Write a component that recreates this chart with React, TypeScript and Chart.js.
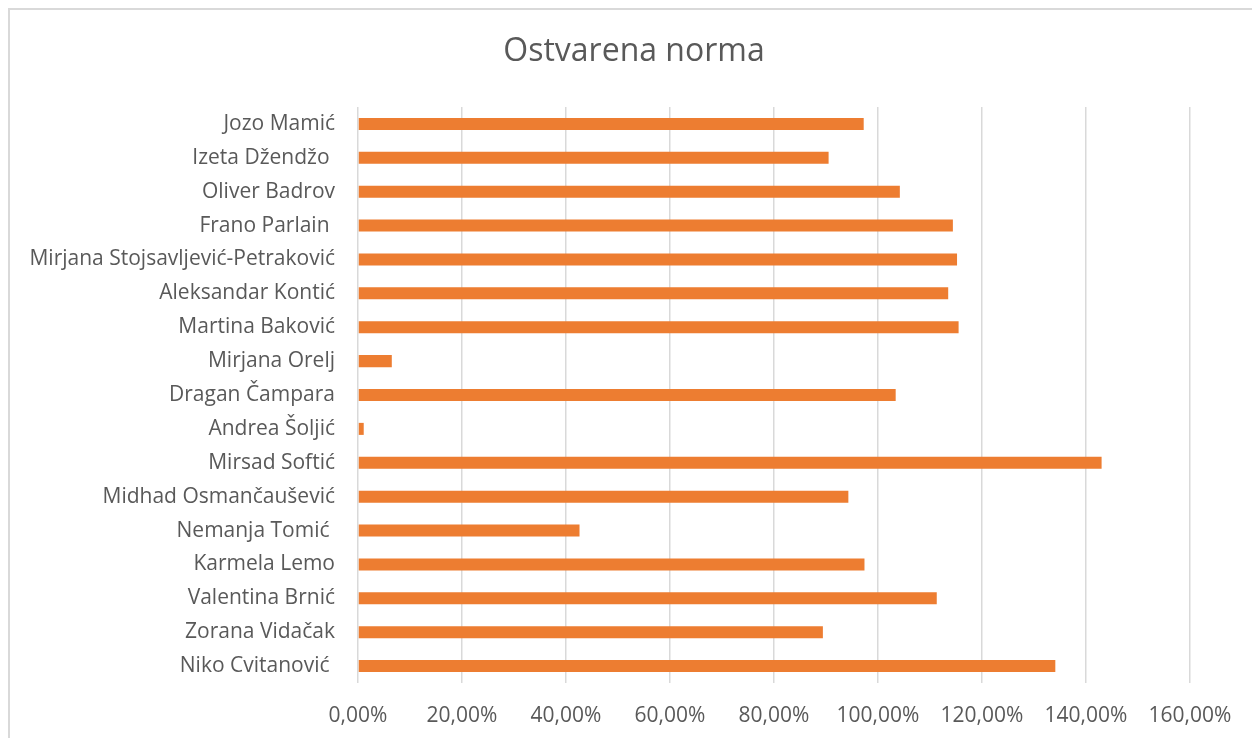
import React, { useEffect, useRef } from "react";
import { Chart, registerables } from "chart.js";

Chart.register(...registerables);

const TITLE = "Ostvarena norma";

const categories = [
  "Jozo Mamić",
  "Izeta Džendžo ",
  "Oliver Badrov",
  "Frano Parlain ",
  "Mirjana Stojsavljević-Petraković",
  "Aleksandar Kontić",
  "Martina Baković",
  "Mirjana Orelj",
  "Dragan Čampara",
  "Andrea Šoljić",
  "Mirsad Softić",
  "Midhad Osmančaušević",
  "Nemanja Tomić ",
  "Karmela Lemo",
  "Valentina Brnić",
  "Zorana Vidačak",
  "Niko Cvitanović ",
];

const values = [
  0.9725, 0.905, 1.042, 1.144, 1.152, 1.135, 1.155, 0.065, 1.034, 0.011,
  1.43, 0.943, 0.426, 0.974, 1.113, 0.894, 1.341,
];

const xMin = 0;
const xMax = 1.6;
const xStep = 0.2;

const formatPct = (v: number) => (v * 100).toFixed(2).replace(".", ",") + "%";

const FONT = "'Open Sans', 'Noto Sans', sans-serif";

const titlePlugin = {
  id: "centerTitle",
  afterDraw(chart: any) {
    const ctx = chart.ctx;
    ctx.save();
    ctx.fillStyle = "#595959";
    ctx.font = `32px ${FONT}`;
    ctx.textAlign = "center";
    ctx.textBaseline = "middle";
    ctx.fillText(TITLE, 634, 52);
    ctx.restore();
  },
};

export default function App() {
  const ref = useRef<HTMLCanvasElement | null>(null);

  useEffect(() => {
    if (!ref.current) return;
    const chart = new Chart(ref.current, {
      type: "bar",
      data: {
        labels: categories,
        datasets: [
          {
            data: values,
            backgroundColor: "#ED7D31",
            borderWidth: 0,
            barPercentage: 0.71,
            categoryPercentage: 0.5,
          },
        ],
      },
      options: {
        indexAxis: "y",
        animation: false,
        responsive: false,
        maintainAspectRatio: false,
        layout: { padding: { left: 9, right: 62, top: 107, bottom: 10 } },
        plugins: {
          legend: { display: false },
          tooltip: { enabled: false },
          title: { display: false },
        },
        scales: {
          x: {
            min: xMin,
            max: xMax,
            afterFit: (scale: any) => {
              scale.height = 45;
            },
            ticks: {
              stepSize: xStep,
              color: "#595959",
              font: { family: FONT, size: 21, lineHeight: 1.2 },
              padding: 20,
              maxRotation: 0,
              callback: (v: any) => formatPct(Number(v)),
            },
            grid: { color: "#d9d9d9", lineWidth: 1.5, drawTicks: false },
            border: { display: false },
          },
          y: {
            afterFit: (scale: any) => {
              scale.width = 349;
            },
            ticks: {
              color: "#595959",
              font: { family: FONT, size: 21 },
              padding: 23,
            },
            grid: { display: false, drawTicks: false },
            border: { display: false },
          },
        },
      },
      plugins: [titlePlugin],
    });
    return () => chart.destroy();
  }, []);

  return (
    <div
      style={{
        position: "absolute",
        left: 0,
        top: 0,
        width: 1252,
        height: 738,
        background: "#fff",
        overflow: "hidden",
      }}
    >
      <div
        style={{
          position: "absolute",
          left: 8,
          top: 8,
          width: 1300,
          height: 800,
          borderLeft: "2px solid #d9d9d9",
          borderTop: "2px solid #d9d9d9",
        }}
      />
      <canvas
        ref={ref}
        width={1252}
        height={738}
        style={{ position: "absolute", left: 0, top: 0 }}
      />
    </div>
  );
}
